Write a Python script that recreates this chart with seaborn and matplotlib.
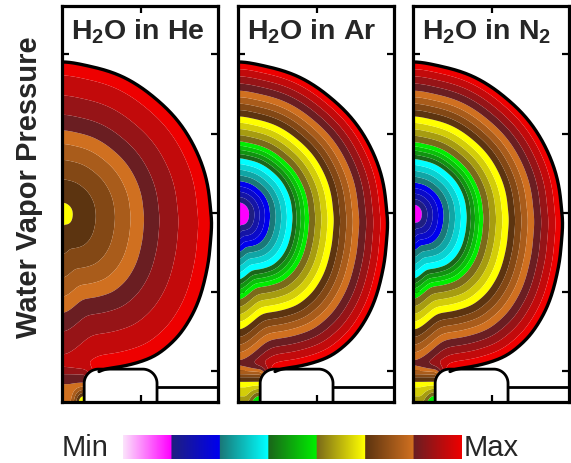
import numpy as np
import matplotlib
matplotlib.use("Agg")
import matplotlib.pyplot as plt
from matplotlib.patches import PathPatch
from matplotlib.path import Path
import seaborn as sns

sns.set_theme(style="white")
plt.rcParams["font.family"] = ["Liberation Sans", "DejaVu Sans"]
plt.rcParams["mathtext.fontset"] = "custom"
plt.rcParams["mathtext.rm"] = "Liberation Sans:bold"
plt.rcParams["mathtext.it"] = "Liberation Sans:bold"
plt.rcParams["mathtext.bf"] = "Liberation Sans:bold"
plt.rcParams["mathtext.default"] = "rm"

# ---------------------------------------------------------------- data
titles = ["H$_2$O in He", "H$_2$O in Ar", "H$_2$O in N$_2$"]

# colour scale: seven groups, each running from a dark to a bright shade
group_dark = ["#fbe3fb", "#1f1f80", "#1a7878", "#1a661a", "#7a6a1a", "#5c3410", "#6a1e22"]
group_bright = ["#ff00ff", "#0000ee", "#00ffff", "#00ee00", "#ffff00", "#d07020", "#ee0000"]
shades_per_group = 4

# normalised distance from bubble centre -> normalised vapour pressure
rho_he = [0.0, 0.071, 0.226, 0.355, 0.458, 0.548, 0.652, 0.78, 0.91, 1.0]
val_he = [0.70, 0.714, 0.75, 0.786, 0.821, 0.857, 0.893, 0.929, 0.964, 1.0]
rho_ar = [0.0, 0.075, 0.215, 0.365, 0.475, 0.64, 0.81, 1.0]
val_ar = [0.115, 0.143, 0.286, 0.429, 0.571, 0.714, 0.857, 1.0]
rho_n2 = [0.0, 0.06, 0.205, 0.36, 0.47, 0.64, 0.81, 1.0]
val_n2 = [0.125, 0.143, 0.286, 0.429, 0.571, 0.714, 0.857, 1.0]

# vapour pressure along the gas inlet capillary (height in length units)
chan_y = [-0.39, -0.2, -0.05, 0.15]
chan_he = [0.83, 0.85, 0.88, 0.90]
chan_ar = [0.62, 0.68, 0.76, 0.80]
chan_n2 = [0.62, 0.68, 0.76, 0.80]
# drop of vapour pressure next to the nozzle wall at the capillary bottom
wall_drop = [0.15, 0.09, 0.09]

# bubble surface (length units, axis of symmetry at x = 0)
surf_x = [0.0, 0.33, 0.76, 1.18, 1.47, 1.68, 1.81, 1.87, 1.89, 1.87, 1.81, 1.68, 1.47, 1.18, 0.76, 0.46]
surf_y = [3.91, 3.85, 3.72, 3.44, 3.15, 2.81, 2.47, 2.05, 1.92, 1.63, 1.20, 0.78, 0.44, 0.19, 0.06, 0.03]
centre_y = 1.99
neck_reach = 2.34   # reach of the field from the centre straight down the axis

# nozzle block
noz_left, noz_right, noz_top, noz_r = 0.28, 1.20, 0.025, 0.18
step_y = -0.20
xlim = (0.0, 1.97)
ylim = (-0.39, 4.61)

profiles = [(rho_he, val_he, chan_he), (rho_ar, val_ar, chan_ar), (rho_n2, val_n2, chan_n2)]

# ---------------------------------------------------------------- geometry
sx, sy = np.array(surf_x), np.array(surf_y)
th_s = np.arctan2(sy - centre_y, sx)
r_s = np.hypot(sx, sy - centre_y)

# reach of the field in every direction (surface, closed over the neck),
# smoothed in angle with mirror symmetry about the axis
th_tab = np.concatenate([th_s, [-np.pi / 2]])[::-1]
r_tab = np.concatenate([r_s, [neck_reach]])[::-1]
th_d = np.linspace(-np.pi / 2, np.pi / 2, 1801)
r_d = np.interp(th_d, th_tab, r_tab)
sig = 28
pad = 4 * sig
kern = np.exp(-0.5 * (np.arange(-pad, pad + 1) / sig) ** 2)
kern /= kern.sum()
r_pad = np.concatenate([r_d[pad:0:-1], r_d, r_d[-2:-pad - 2:-1]])
r_sm = np.convolve(r_pad, kern, mode="valid")

th_out = np.linspace(np.pi / 2, th_s[-1], 600)
r_out = np.interp(th_out, th_d, r_sm)
bub_x = r_out * np.cos(th_out)
bub_y = centre_y + r_out * np.sin(th_out)

arc_c = (noz_left + noz_r, noz_top - noz_r)
a1 = np.linspace(np.pi / 2, np.pi, 40)
arcL_x = arc_c[0] + noz_r * np.cos(a1)
arcL_y = arc_c[1] + noz_r * np.sin(a1)

fluid_x = np.concatenate([bub_x, arcL_x, [noz_left, 0.0, 0.0]])
fluid_y = np.concatenate([bub_y, arcL_y, [ylim[0], ylim[0], bub_y[0]]])

gx = np.linspace(xlim[0], xlim[1], 400)
gy = np.linspace(ylim[0], ylim[1], 1000)
X, Y = np.meshgrid(gx, gy)
TH = np.arctan2(Y - centre_y, np.maximum(X, 1e-9))
RHO = np.hypot(X, Y - centre_y) / np.interp(TH, th_d, r_sm)


def smoothstep(e0, e1, z):
    t = np.clip((z - e0) / (e1 - e0), 0, 1)
    return t * t * (3 - 2 * t)


w_chan = smoothstep(0.15, -0.1, Y) * smoothstep(0.48, 0.26, X)
w_wall = smoothstep(0.08, 0.27, X) * smoothstep(-0.12, -0.39, Y)

# colours of the contour bands
shade_list = []
for d, b in zip(group_dark, group_bright):
    shade_list += list(sns.blend_palette([d, b], n_colors=shades_per_group))
levels = np.linspace(0, 1, len(shade_list) + 1)

# ---------------------------------------------------------------- figure
fig = plt.figure(figsize=(5.71, 4.64), dpi=100)
W, H = 571.0, 464.0
panel_left = [62, 238, 413]
for i, (rho_p, val_p, chan_p) in enumerate(profiles):
    ax = fig.add_axes([panel_left[i] / W, (H - 403) / H, 156 / W, 396 / H])
    v_bub = np.interp(RHO, rho_p, val_p)
    v_cap = np.interp(Y, chan_y, chan_p) - wall_drop[i] * w_wall
    v = np.clip(v_bub * (1 - w_chan) + v_cap * w_chan, 0, 0.9999)

    cs = ax.contourf(X, Y, v, levels=levels, colors=shade_list, antialiased=True)
    clip = PathPatch(Path(np.column_stack([fluid_x, fluid_y])),
                     transform=ax.transData, facecolor="none", edgecolor="none")
    ax.add_patch(clip)
    cs.set_clip_path(clip)

    # bubble surface
    ax.plot(bub_x, bub_y, color="black", lw=2.4, solid_capstyle="round", zorder=5)
    # nozzle outline
    a_r = np.linspace(np.pi / 2, 0, 40)
    nx = np.concatenate([[noz_left], arcL_x[::-1],
                         noz_right - noz_r + noz_r * np.cos(a_r), [noz_right]])
    ny = np.concatenate([[ylim[0]], arcL_y[::-1],
                         noz_top - noz_r + noz_r * np.sin(a_r), [ylim[0]]])
    ax.plot(nx, ny, color="black", lw=2.0, zorder=5)
    ax.plot([noz_right, xlim[1]], [step_y, step_y], color="black", lw=2.0, zorder=5)

    ax.set_xlim(*xlim)
    ax.set_ylim(*ylim)
    ax.set_xticks([1.0])
    ax.set_yticks([0, 1, 2, 3, 4])
    ax.tick_params(direction="in", length=5, width=1.6, color="black",
                   left=True, right=True, top=True, bottom=True,
                   labelleft=False, labelbottom=False)
    for sp in ax.spines.values():
        sp.set_visible(True)
        sp.set_color("black")
        sp.set_linewidth(2.3)
    ax.set_facecolor("white")
    ax.text(0.058, 0.918, titles[i], transform=ax.transAxes, fontsize=20.5,
            fontweight="bold", ha="left", va="baseline", zorder=6)

fig.text(29 / W, (H - 187) / H, "Water Vapor Pressure", rotation=90,
         fontsize=21, fontweight="bold", ha="center", va="center")

# colour scale strip
cax = fig.add_axes([123 / W, (H - 460) / H, 339 / W, 24 / H])
strip = []
for d, b in zip(group_dark, group_bright):
    strip += list(sns.blend_palette([d, b], n_colors=60))
cax.imshow(np.array(strip)[None, :, :3], aspect="auto", interpolation="bilinear")
cax.set_axis_off()
fig.text(62 / W, (H - 456) / H, "Min", fontsize=21, ha="left", va="baseline")
fig.text(464 / W, (H - 456) / H, "Max", fontsize=21, ha="left", va="baseline")

fig.savefig("out.png", dpi=100, facecolor="white")
